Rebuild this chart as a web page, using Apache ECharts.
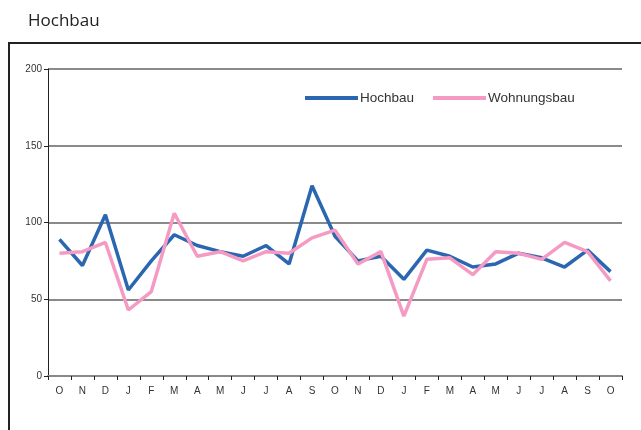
<!DOCTYPE html>
<html lang="de">
  <head>
    <meta charset="UTF-8" />
    <title>Hochbau</title>
    <style>
      html, body { margin: 0; padding: 0; background: #fff; }
      #main { width: 641px; height: 430px; }
    </style>
  </head>
  <body>
    <div id="main"></div>
    <script src="https://cdn.jsdelivr.net/npm/echarts@6/dist/echarts.min.js"></script>
    <script>
      // Monate (Okt bis Okt, zwei Jahre)
      const months = ["O", "N", "D", "J", "F", "M", "A", "M", "J", "J", "A", "S",
                      "O", "N", "D", "J", "F", "M", "A", "M", "J", "J", "A", "S", "O"];
      const hochbau = [89, 72, 105, 56, 75, 92, 85, 81, 78, 85, 73, 124,
                       91, 75, 78, 63, 82, 78, 71, 73, 80, 77, 71, 82, 68];
      const wohnungsbau = [80, 81, 87, 43, 55, 106, 78, 81, 75, 81, 80, 90,
                           95, 73, 81, 39, 76, 77, 66, 81, 80, 76, 87, 81, 62];
      const yTicks = [0, 50, 100, 150, 200];

      const myChart = echarts.init(document.getElementById("main"));
      const axisFont = { fontFamily: "Liberation Sans, Arial, sans-serif", fontSize: 10, color: "#333" };

      const option = {
        animation: false,
        title: {
          text: "Hochbau",
          left: 23,
          top: 8,
          textStyle: { fontFamily: "Open Sans, Noto Sans, sans-serif", fontSize: 17, fontWeight: "normal", color: "#222" }
        },
        graphic: [
          {
            type: "rect",
            shape: { x: 9, y: 43, width: 700, height: 500 },
            style: { fill: "none", stroke: "#222", lineWidth: 2 }
          }
        ],
        legend: {
          left: 300,
          top: 86,
          itemWidth: 53,
          itemHeight: 4,
          itemGap: 19,
          icon: "rect",
          textStyle: { fontFamily: "Liberation Sans, Arial, sans-serif", fontSize: 13.5, color: "#333", padding: [0, 0, 0, -3] },
          data: ["Hochbau", "Wohnungsbau"]
        },
        grid: { left: 48, right: 19, top: 69, bottom: 54 },
        xAxis: {
          type: "category",
          data: months,
          boundaryGap: true,
          axisLine: { lineStyle: { color: "#888", width: 2 } },
          axisTick: { show: true, length: 4, lineStyle: { color: "#222", width: 1 } },
          axisLabel: Object.assign({ margin: 10 }, axisFont)
        },
        yAxis: {
          type: "value",
          min: yTicks[0],
          max: yTicks[yTicks.length - 1],
          interval: 50,
          axisLine: { show: true, lineStyle: { color: "#222", width: 1 } },
          axisTick: { show: true, length: 4, lineStyle: { color: "#222" } },
          axisLabel: Object.assign({ margin: 6 }, axisFont),
          splitLine: { show: true, lineStyle: { color: "#8a8a8a", width: 2 } }
        },
        series: [
          {
            name: "Hochbau",
            type: "line",
            data: hochbau,
            symbol: "none",
            color: "#2b66b1",
            lineStyle: { width: 3.5, color: "#2b66b1" }
          },
          {
            name: "Wohnungsbau",
            type: "line",
            data: wohnungsbau,
            symbol: "none",
            color: "#f59bc3",
            lineStyle: { width: 3.5, color: "#f59bc3" }
          }
        ]
      };

      myChart.setOption(option);
    </script>
  </body>
</html>
